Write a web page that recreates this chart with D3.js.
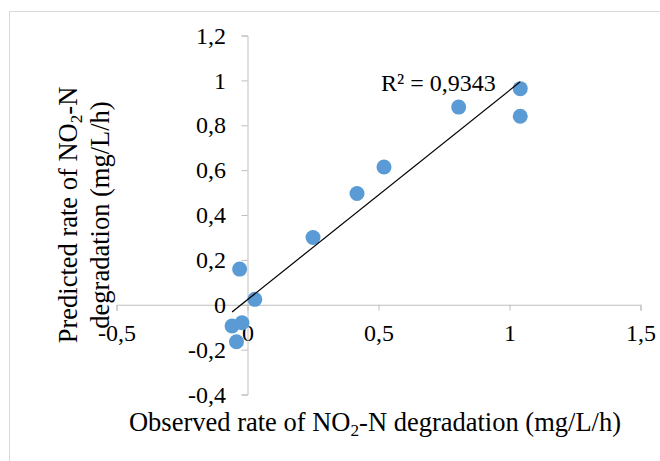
<!DOCTYPE html>
<html>
<head>
<meta charset="utf-8">
<script src="https://cdn.jsdelivr.net/npm/d3@7"></script>
<style>
  body { margin: 0; background: #fff; }
  svg text { font-family: "Liberation Serif", "Times New Roman", serif; fill: #000; }
</style>
</head>
<body>
<div id="chart"></div>
<script>
// observed vs predicted rate of NO2-N degradation (mg/L/h)
const observed  = [-0.030, 0.028, -0.059, -0.021, -0.042, 0.250, 0.418, 0.521, 0.806, 1.041, 1.041];
const predicted = [ 0.159, 0.024, -0.095, -0.080, -0.165, 0.300, 0.496, 0.614, 0.881, 0.963, 0.840];
const xTicks = [-0.5, 0, 0.5, 1, 1.5];
const yTicks = [-0.4, -0.2, 0, 0.2, 0.4, 0.6, 0.8, 1, 1.2];
const r2Label = "R² = 0,9343";

const width = 660, height = 461;
const tickFont = 24;   // tick labels and R² label
const titleFont = 26.5; // axis titles

const locale = d3.formatLocale({decimal: ",", thousands: ".", grouping: [3], currency: ["", ""], minus: "-"});
const fmt = locale.format("~g");

const x = d3.scaleLinear().domain([-0.5, 1.5]).range([116.5, 640.5]);
const y = d3.scaleLinear().domain([-0.4, 1.2]).range([394.5, 35.5]);

const svg = d3.select("#chart").append("svg")
    .attr("width", width)
    .attr("height", height);

// chart area border
svg.append("rect")
    .attr("x", 9.5).attr("y", 11.5)
    .attr("width", 700).attr("height", 500)
    .attr("fill", "#fff")
    .attr("stroke", "#d9d9d9");

// x axis through y = 0
const gx = svg.append("g")
    .attr("transform", "translate(0," + y(0) + ")")
    .call(d3.axisBottom(x).tickValues(xTicks).tickFormat(fmt).tickSize(6).tickPadding(13.5));

// y axis through x = 0
const gy = svg.append("g")
    .attr("transform", "translate(" + x(0) + ",0)")
    .call(d3.axisLeft(y).tickValues(yTicks).tickFormat(fmt).tickSize(6).tickPadding(15.5));

[gx, gy].forEach((g) => {
    g.select(".domain").attr("stroke", "#bfbfbf").attr("stroke-width", 1);
    g.selectAll(".tick line").attr("stroke", "#bfbfbf");
    g.selectAll(".tick text")
        .attr("font-size", tickFont)
        .attr("font-family", "Liberation Serif, Times New Roman, serif")
        .attr("fill", "#000");
});

// points
svg.append("g").selectAll("circle")
    .data(observed.map((d, i) => ({x: d, y: predicted[i]})))
    .enter().append("circle")
    .attr("cx", (d) => x(d.x))
    .attr("cy", (d) => y(d.y))
    .attr("r", 7.5)
    .attr("fill", "#5b9bd5");

// linear trendline (least squares)
const mx = d3.mean(observed), my = d3.mean(predicted);
let sxy = 0, sxx = 0;
observed.forEach((d, i) => {
    sxy += (d - mx) * (predicted[i] - my);
    sxx += (d - mx) * (d - mx);
});
const slope = sxy / sxx;
const intercept = my - slope * mx;
const [x0, x1] = d3.extent(observed);

svg.append("line")
    .attr("x1", x(x0)).attr("y1", y(intercept + slope * x0))
    .attr("x2", x(x1)).attr("y2", y(intercept + slope * x1))
    .attr("stroke", "#000")
    .attr("stroke-width", 1.2);

svg.append("text")
    .attr("x", 381).attr("y", 91)
    .attr("font-size", tickFont)
    .text(r2Label);

// x axis title
const xt = svg.append("text")
    .attr("x", 375)
    .attr("y", 431)
    .attr("text-anchor", "middle")
    .attr("font-size", titleFont);
xt.append("tspan").text("Observed rate of NO");
xt.append("tspan").attr("font-size", titleFont * 0.65).attr("dy", 5).text("2");
xt.append("tspan").attr("dy", -5).text("-N degradation (mg/L/h)");

// y axis title, two lines
const cy = (y.range()[0] + y.range()[1]) / 2;
const yt = svg.append("g").attr("transform", "translate(77," + cy + ") rotate(-90)");
const l1 = yt.append("text").attr("text-anchor", "middle").attr("font-size", titleFont);
l1.append("tspan").text("Predicted rate of NO");
l1.append("tspan").attr("font-size", titleFont * 0.65).attr("dy", 5).text("2");
l1.append("tspan").attr("dy", -5).text("-N");
yt.append("text")
    .attr("y", 32)
    .attr("text-anchor", "middle")
    .attr("font-size", titleFont)
    .text("degradation (mg/L/h)");
</script>
</body>
</html>
